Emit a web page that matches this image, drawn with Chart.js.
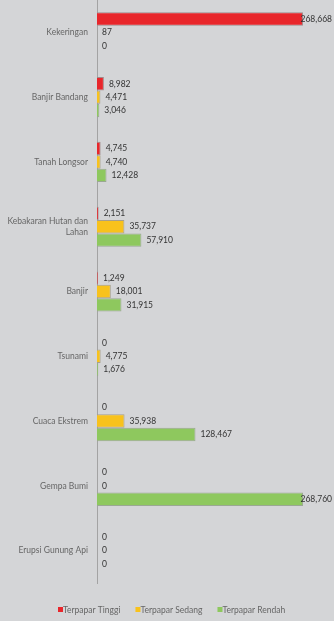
<!DOCTYPE html>
<html>
<head>
<meta charset="utf-8">
<script src="https://cdn.jsdelivr.net/npm/chart.js@4"></script>
<style>
  body { margin: 0; background: #d4d5d7; }
  #wrap { width: 334px; height: 621px; position: relative; }
</style>
</head>
<body>
<div id="wrap"><canvas id="barras"></canvas></div>
<script>
const kategori = [
  "Kekeringan",
  "Banjir Bandang",
  "Tanah Longsor",
  ["Kebakaran Hutan dan", "Lahan"],
  "Banjir",
  "Tsunami",
  "Cuaca Ekstrem",
  "Gempa Bumi",
  "Erupsi Gunung Api",
];
const terpaparTinggi = [268668, 8982, 4745, 2151, 1249, 0, 0, 0, 0];
const terpaparSedang = [87, 4471, 4740, 35737, 18001, 4775, 35938, 0, 0];
const terpaparRendah = [0, 3046, 12428, 57910, 31915, 1676, 128467, 268760, 0];

const intFormat = new Intl.NumberFormat("en-US", { maximumFractionDigits: 0 });
const fonte = "Lato";

// escreve o valor ao lado de cada barra
const rotulosPlugin = {
  id: "rotulos",
  afterDatasetsDraw(chart) {
    const ctx = chart.ctx;
    ctx.save();
    ctx.font = "8.5px " + fonte;
    ctx.fillStyle = "#333";
    ctx.textAlign = "left";
    ctx.textBaseline = "middle";
    chart.data.datasets.forEach((ds, i) => {
      const meta = chart.getDatasetMeta(i);
      meta.data.forEach((bar, j) => {
        const txt = getFormattedInt(ds.data[j]);
        const w = ctx.measureText(txt).width;
        const x = Math.min(bar.x + 5, chart.width - w - 2);
        ctx.fillText(txt, x, bar.y);
      });
    });
    ctx.restore();
  },
};

// legenda desenhada a mao, embaixo
const legendaPlugin = {
  id: "legenda",
  afterDraw(chart) {
    const ctx = chart.ctx;
    ctx.save();
    ctx.font = "8.5px " + fonte;
    ctx.textAlign = "left";
    ctx.textBaseline = "middle";
    let x = 58;
    const y = 610;
    chart.data.datasets.forEach((ds) => {
      ctx.fillStyle = ds.backgroundColor;
      ctx.fillRect(x, y - 3, 5, 5);
      ctx.fillStyle = "#666";
      ctx.fillText(ds.label, x + 5, y);
      x += 5 + ctx.measureText(ds.label).width + 15;
    });
    ctx.restore();
  },
};

new Chart(document.getElementById("barras"), {
  type: "bar",
  data: {
    labels: kategori,
    datasets: [
      {
        label: "Terpapar Tinggi",
        data: terpaparTinggi,
        backgroundColor: "#e8262b",
        borderColor: "#a08a8a",
        borderWidth: 1,
      },
      {
        label: "Terpapar Sedang",
        data: terpaparSedang,
        backgroundColor: "#f8c21c",
        borderColor: "#a8a08a",
        borderWidth: 1,
      },
      {
        label: "Terpapar Rendah",
        data: terpaparRendah,
        backgroundColor: "#8ec85e",
        borderColor: "#9aa892",
        borderWidth: 1,
      },
    ],
  },
  options: {
    indexAxis: "y",
    responsive: true,
    maintainAspectRatio: false,
    animation: false,
    layout: { padding: { top: -2, right: 30, left: 0, bottom: 38 } },
    datasets: { bar: { categoryPercentage: 0.62, barPercentage: 1.0 } },
    scales: {
      x: {
        display: false,
        min: 0,
        max: 270000,
      },
      y: {
        afterFit(scale) {
          scale.width = 97;
          scale.paddingTop = 0;
          scale.paddingBottom = 0;
        },
        grid: { display: false, drawTicks: false },
        border: { display: true, color: "#a3a3a3", width: 1 },
        ticks: {
          color: "#666",
          padding: 9,
          font: { family: fonte, size: 8.5 },
        },
      },
    },
    plugins: {
      legend: { display: false },
      tooltip: { enabled: false },
    },
  },
  plugins: [rotulosPlugin, legendaPlugin],
});

// utils
function getFormattedInt(num) {
  return intFormat.format(num);
}
</script>
</body>
</html>
